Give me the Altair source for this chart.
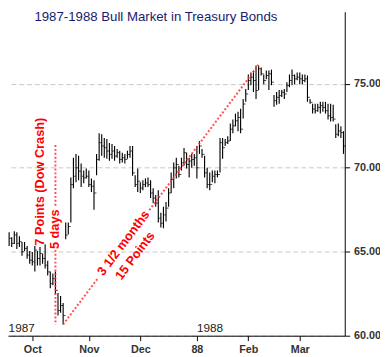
import altair as alt
import pandas as pd

# trading-day index (0 = first trading day of Oct 1987)
day = list(range(-9, 122))
high = [66.16, 65.87, 66.22, 66.16, 65.93, 65.58, 65.58, 65.34, 65.05,
        64.99, 65.34, 65.05, 65.28, 64.88, 65.45, 64.47, 63.83, 63.71, 63.83,
        62.54, 62.36, 61.95, 66.74, 66.74, 69.43, 70.6, 70.83, 70.72, 70.25,
        69.84, 69.96, 69.84, 69.37, 69.26, 70.83, 72.06, 72.0, 71.77, 71.71,
        71.48, 71.42, 71.3, 71.12, 71.01, 70.89, 70.83, 71.01, 71.3, 71.3,
        69.55, 69.96, 69.14, 69.26, 69.37, 69.43, 69.26, 68.79, 68.38, 68.67,
        67.33, 67.68, 67.97, 68.79, 69.72, 70.31, 70.6, 70.13, 70.6, 71.18,
        70.89, 70.6, 70.83, 70.83, 71.3, 71.59, 71.12, 70.72, 70.01, 69.72,
        69.84, 69.84, 69.84, 71.77, 71.77, 71.71, 71.88, 72.64, 72.88, 73.23,
        73.34, 73.52, 74.1, 74.69, 75.56, 75.68, 75.8, 76.09, 76.09, 75.97,
        75.56, 75.8, 75.8, 75.85, 74.34, 74.51, 74.63, 74.63, 74.69, 75.1,
        75.56, 75.85, 75.56, 75.68, 75.68, 75.56, 75.56, 75.5, 74.1, 73.81,
        73.81, 73.81, 73.93, 73.93, 73.93, 73.81, 73.81, 73.75, 72.59, 72.64,
        72.47, 72.18]
low = [65.34, 65.28, 65.46, 65.17, 65.28, 64.76, 65.05, 64.58, 64.29,
       64.18, 63.83, 64.18, 64.18, 64.29, 64.0, 63.59, 62.83, 63.01, 62.48,
       61.2, 61.37, 60.67, 65.75, 66.04, 66.74, 68.79, 69.14, 69.26, 68.85,
       69.08, 69.37, 68.85, 68.56, 67.5, 69.55, 70.42, 70.72, 70.6, 70.54,
       70.42, 70.54, 70.42, 70.6, 70.25, 70.31, 70.25, 70.54, 70.6, 69.52,
       68.85, 68.56, 68.5, 68.67, 68.85, 68.85, 68.2, 67.91, 67.68, 66.74,
       66.45, 66.4, 66.8, 67.68, 68.5, 68.79, 69.37, 69.43, 69.84, 70.13,
       69.96, 69.43, 70.01, 70.13, 69.37, 70.83, 70.6, 69.43, 68.79, 68.67,
       69.14, 69.08, 69.43, 69.72, 70.54, 71.3, 71.42, 71.59, 72.06, 72.47,
       72.18, 72.06, 72.94, 73.93, 74.63, 74.92, 74.51, 74.1, 74.63, 75.5,
       74.98, 75.27, 74.63, 74.92, 73.64, 73.75, 73.81, 74.22, 74.1, 74.51,
       74.8, 74.92, 74.98, 75.21, 74.98, 74.98, 75.1, 73.93, 73.81, 73.23,
       73.23, 73.34, 73.23, 73.34, 73.23, 72.88, 72.76, 72.76, 71.77, 71.88,
       71.77, 70.83]
close = [65.8, 65.5, 66.0, 65.5, 65.6, 65.0, 65.2, 64.8, 64.5,
         64.4, 65.1, 64.6, 64.9, 64.6, 64.2, 63.8, 63.1, 63.4, 62.7,
         61.5, 61.8, 61.2, 66.0, 66.5, 69.0, 69.5, 70.0, 69.8, 69.5,
         69.4, 69.5, 69.0, 68.9, 68.5, 70.5, 71.5, 71.3, 71.2, 71.0,
         70.8, 71.0, 70.7, 70.9, 70.5, 70.6, 70.5, 70.8, 71.0, 69.7,
         69.0, 69.2, 68.8, 69.0, 69.1, 69.0, 68.5, 68.2, 67.9, 67.0,
         66.7, 67.2, 67.6, 68.5, 69.3, 70.0, 70.2, 69.6, 70.3, 70.9,
         70.2, 70.4, 70.5, 70.6, 70.0, 71.3, 70.8, 69.7, 69.0, 69.0,
         69.5, 69.6, 69.6, 71.5, 71.2, 71.5, 71.6, 72.3, 72.5, 72.8,
         73.0, 72.3, 73.8, 74.4, 75.2, 75.4, 75.2, 74.6, 75.9, 75.6,
         75.2, 75.5, 75.6, 75.1, 74.0, 74.2, 74.3, 74.5, 74.4, 74.9,
         75.2, 75.5, 75.3, 75.4, 75.3, 75.2, 75.3, 74.2, 73.9, 73.5,
         73.4, 73.6, 73.7, 73.6, 73.4, 73.1, 73.0, 72.9, 72.0, 72.2,
         72.1, 71.3]

month_labels = ["Oct", "Nov", "Dec", "88", "Feb", "Mar"]
month_pos = [0, 22, 42, 64, 84, 104]
y_ticks = [60, 65, 70, 75]
year_labels = ["1987", "1988"]
year_pos = [-9.2, 64]
year_price = [60.2, 60.25]

title_text = "1987-1988 Bull Market in Treasury Bonds"

ann_text = ["7 Points (Dow Crash)", "5 days", "3 1/2 months", "15 Points"]
ann_day = [3.1, 8.9, 35.5, 40.0]
ann_price = [69.17, 66.34, 65.52, 64.76]
ann_angle = [270, 270, 307, 307]

seg_x1 = [9, 9, 12, 45.5]
seg_y1 = [71.36, 65.11, 60.67, 67.48]
seg_x2 = [9, 9, 25.5, 88]
seg_y2 = [67.62, 60.67, 63.42, 76.13]

bars = pd.DataFrame({"day": day, "high": high, "low": low, "close": close})
years = pd.DataFrame({"lab": year_labels, "day": year_pos, "price": year_price})
ann = pd.DataFrame({"t": ann_text, "day": ann_day, "price": ann_price, "ang": ann_angle})
segs = pd.DataFrame({"x1": seg_x1, "y1": seg_y1, "x2": seg_x2, "y2": seg_y2})

FONT = "Liberation Sans"
xs = alt.Scale(domain=[-9.44, 121.5], nice=False, zero=False)
ys = alt.Scale(domain=[60, 79.3], nice=False, zero=False)

label_expr = " : ".join(
    f"datum.value == {p} ? '{l}'" for p, l in zip(month_pos, month_labels)
) + " : ''"

x_axis = alt.Axis(values=month_pos, labelExpr=label_expr, grid=False, tickSize=5,
                  labelPadding=3, labelFont=FONT, labelFontSize=11,
                  labelFontWeight="bold", labelColor="#333333", domainColor="black",
                  tickColor="black", title=None, labelFlush=False)
y_axis = alt.Axis(orient="right", values=y_ticks, format=".2f", grid=True,
                  gridDash=[5, 3], gridColor="#c8c8c8", tickSize=5, labelPadding=4,
                  labelFont=FONT, labelFontSize=11, labelFontWeight="bold",
                  labelColor="#333333", domainColor="black", tickColor="black",
                  title=None)

base = alt.Chart(bars)
rules = base.mark_rule(color="black", strokeWidth=1.15).encode(
    x=alt.X("day:Q", scale=xs, axis=x_axis),
    y=alt.Y("low:Q", scale=ys, axis=y_axis),
    y2="high:Q",
)
ticks = base.mark_tick(color="black", orient="horizontal", size=2.5, thickness=1,
                       xOffset=1.3).encode(
    x=alt.X("day:Q", scale=xs),
    y=alt.Y("close:Q", scale=ys),
)
lines = alt.Chart(segs).mark_rule(color="#ff3030", strokeWidth=2, strokeDash=[2, 2],
                                   opacity=0.85).encode(
    x=alt.X("x1:Q", scale=xs), y=alt.Y("y1:Q", scale=ys), x2="x2:Q", y2="y2:Q"
)
texts = alt.Chart(ann).mark_text(color="#ff0000", font=FONT, fontSize=13,
                                 fontWeight="bold", align="center",
                                 baseline="middle").encode(
    x=alt.X("day:Q", scale=xs), y=alt.Y("price:Q", scale=ys),
    text="t:N", angle=alt.Angle("ang:Q", scale=None),
)
yr = alt.Chart(years).mark_text(color="#222222", font=FONT, fontSize=12,
                                align="left", baseline="alphabetic").encode(
    x=alt.X("day:Q", scale=xs), y=alt.Y("price:Q", scale=ys), text="lab:N"
)
ttl = alt.Chart(pd.DataFrame({"t": [title_text]})).mark_text(
    color="#1a1a70", font=FONT, fontSize=13.5, align="left", baseline="alphabetic"
).encode(x=alt.value(27), y=alt.value(9.5), text="t:N")

chart = alt.layer(rules, ticks, lines, texts, yr, ttl).properties(
    width=344, height=331,
    padding={"left": 0, "top": 0, "right": 36, "bottom": 18},
    autosize=alt.AutoSizeParams(type="none"),
).configure_view(stroke=None)

chart.save("out.html", embed_options={"renderer": "svg", "actions": False})
